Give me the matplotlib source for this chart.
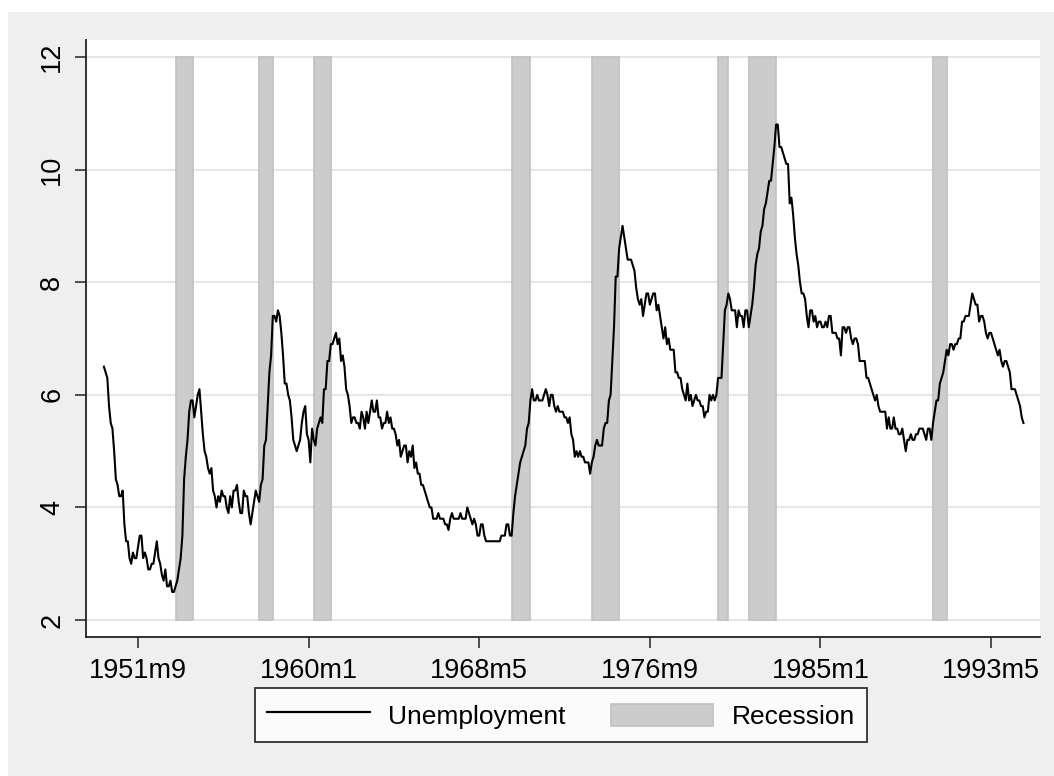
import numpy as np
import matplotlib.pyplot as plt
from matplotlib.patches import Rectangle, Patch
from matplotlib.lines import Line2D
from matplotlib.legend_handler import HandlerPatch
from matplotlib.ticker import FuncFormatter

plt.rcParams["font.family"] = ["Liberation Sans", "DejaVu Sans"]

# monthly unemployment rate, 1950m1 - 1994m12
unemp_by_year = {
    1950: [6.5, 6.4, 6.3, 5.8, 5.5, 5.4, 5.0, 4.5, 4.4, 4.2, 4.2, 4.3],
    1951: [3.7, 3.4, 3.4, 3.1, 3.0, 3.2, 3.1, 3.1, 3.3, 3.5, 3.5, 3.1],
    1952: [3.2, 3.1, 2.9, 2.9, 3.0, 3.0, 3.2, 3.4, 3.1, 3.0, 2.8, 2.7],
    1953: [2.9, 2.6, 2.6, 2.7, 2.5, 2.5, 2.6, 2.7, 2.9, 3.1, 3.5, 4.5],
    1954: [4.9, 5.2, 5.7, 5.9, 5.9, 5.6, 5.8, 6.0, 6.1, 5.7, 5.3, 5.0],
    1955: [4.9, 4.7, 4.6, 4.7, 4.3, 4.2, 4.0, 4.2, 4.1, 4.3, 4.2, 4.2],
    1956: [4.0, 3.9, 4.2, 4.0, 4.3, 4.3, 4.4, 4.1, 3.9, 3.9, 4.3, 4.2],
    1957: [4.2, 3.9, 3.7, 3.9, 4.1, 4.3, 4.2, 4.1, 4.4, 4.5, 5.1, 5.2],
    1958: [5.8, 6.4, 6.7, 7.4, 7.4, 7.3, 7.5, 7.4, 7.1, 6.7, 6.2, 6.2],
    1959: [6.0, 5.9, 5.6, 5.2, 5.1, 5.0, 5.1, 5.2, 5.5, 5.7, 5.8, 5.3],
    1960: [5.2, 4.8, 5.4, 5.2, 5.1, 5.4, 5.5, 5.6, 5.5, 6.1, 6.1, 6.6],
    1961: [6.6, 6.9, 6.9, 7.0, 7.1, 6.9, 7.0, 6.6, 6.7, 6.5, 6.1, 6.0],
    1962: [5.8, 5.5, 5.6, 5.6, 5.5, 5.5, 5.4, 5.7, 5.6, 5.4, 5.7, 5.5],
    1963: [5.7, 5.9, 5.7, 5.7, 5.9, 5.6, 5.6, 5.4, 5.5, 5.5, 5.7, 5.5],
    1964: [5.6, 5.4, 5.4, 5.3, 5.1, 5.2, 4.9, 5.0, 5.1, 5.1, 4.8, 5.0],
    1965: [4.9, 5.1, 4.7, 4.8, 4.6, 4.6, 4.4, 4.4, 4.3, 4.2, 4.1, 4.0],
    1966: [4.0, 3.8, 3.8, 3.8, 3.9, 3.8, 3.8, 3.8, 3.7, 3.7, 3.6, 3.8],
    1967: [3.9, 3.8, 3.8, 3.8, 3.8, 3.9, 3.8, 3.8, 3.8, 4.0, 3.9, 3.8],
    1968: [3.7, 3.8, 3.7, 3.5, 3.5, 3.7, 3.7, 3.5, 3.4, 3.4, 3.4, 3.4],
    1969: [3.4, 3.4, 3.4, 3.4, 3.4, 3.5, 3.5, 3.5, 3.7, 3.7, 3.5, 3.5],
    1970: [3.9, 4.2, 4.4, 4.6, 4.8, 4.9, 5.0, 5.1, 5.4, 5.5, 5.9, 6.1],
    1971: [5.9, 5.9, 6.0, 5.9, 5.9, 5.9, 6.0, 6.1, 6.0, 5.8, 6.0, 6.0],
    1972: [5.8, 5.7, 5.8, 5.7, 5.7, 5.7, 5.6, 5.6, 5.5, 5.6, 5.3, 5.2],
    1973: [4.9, 5.0, 4.9, 5.0, 4.9, 4.9, 4.8, 4.8, 4.8, 4.6, 4.8, 4.9],
    1974: [5.1, 5.2, 5.1, 5.1, 5.1, 5.4, 5.5, 5.5, 5.9, 6.0, 6.6, 7.2],
    1975: [8.1, 8.1, 8.6, 8.8, 9.0, 8.8, 8.6, 8.4, 8.4, 8.4, 8.3, 8.2],
    1976: [7.9, 7.7, 7.6, 7.7, 7.4, 7.6, 7.8, 7.8, 7.6, 7.7, 7.8, 7.8],
    1977: [7.5, 7.6, 7.4, 7.2, 7.0, 7.2, 6.9, 7.0, 6.8, 6.8, 6.8, 6.4],
    1978: [6.4, 6.3, 6.3, 6.1, 6.0, 5.9, 6.2, 5.9, 6.0, 5.8, 5.9, 6.0],
    1979: [5.9, 5.9, 5.8, 5.8, 5.6, 5.7, 5.7, 6.0, 5.9, 6.0, 5.9, 6.0],
    1980: [6.3, 6.3, 6.3, 6.9, 7.5, 7.6, 7.8, 7.7, 7.5, 7.5, 7.5, 7.2],
    1981: [7.5, 7.4, 7.4, 7.2, 7.5, 7.5, 7.2, 7.4, 7.6, 7.9, 8.3, 8.5],
    1982: [8.6, 8.9, 9.0, 9.3, 9.4, 9.6, 9.8, 9.8, 10.1, 10.4, 10.8, 10.8],
    1983: [10.4, 10.4, 10.3, 10.2, 10.1, 10.1, 9.4, 9.5, 9.2, 8.8, 8.5, 8.3],
    1984: [8.0, 7.8, 7.8, 7.7, 7.4, 7.2, 7.5, 7.5, 7.3, 7.4, 7.2, 7.3],
    1985: [7.3, 7.2, 7.2, 7.3, 7.2, 7.4, 7.4, 7.1, 7.1, 7.1, 7.0, 7.0],
    1986: [6.7, 7.2, 7.2, 7.1, 7.2, 7.2, 7.0, 6.9, 7.0, 7.0, 6.9, 6.6],
    1987: [6.6, 6.6, 6.6, 6.3, 6.3, 6.2, 6.1, 6.0, 5.9, 6.0, 5.8, 5.7],
    1988: [5.7, 5.7, 5.7, 5.4, 5.6, 5.4, 5.4, 5.6, 5.4, 5.4, 5.3, 5.3],
    1989: [5.4, 5.2, 5.0, 5.2, 5.2, 5.3, 5.2, 5.2, 5.3, 5.3, 5.4, 5.4],
    1990: [5.4, 5.3, 5.2, 5.4, 5.4, 5.2, 5.5, 5.7, 5.9, 5.9, 6.2, 6.3],
    1991: [6.4, 6.6, 6.8, 6.7, 6.9, 6.9, 6.8, 6.9, 6.9, 7.0, 7.0, 7.3],
    1992: [7.3, 7.4, 7.4, 7.4, 7.6, 7.8, 7.7, 7.6, 7.6, 7.3, 7.4, 7.4],
    1993: [7.3, 7.1, 7.0, 7.1, 7.1, 7.0, 6.9, 6.8, 6.7, 6.8, 6.6, 6.5],
    1994: [6.6, 6.6, 6.5, 6.4, 6.1, 6.1, 6.1, 6.0, 5.9, 5.8, 5.6, 5.5],
}

# NBER recessions (peak, trough) as (year, month)
rec_start = [(1953, 7), (1957, 8), (1960, 4), (1969, 12), (1973, 11), (1980, 1), (1981, 7), (1990, 7)]
rec_end = [(1954, 5), (1958, 4), (1961, 2), (1970, 11), (1975, 3), (1980, 7), (1982, 11), (1991, 3)]

xticks = [-100, 0, 100, 200, 300, 400]   # Stata monthly index, 1960m1 = 0
yticks = [2, 4, 6, 8, 10, 12]


def mindex(y, m):
    return (y - 1960) * 12 + (m - 1)


def mlabel(v, pos=None):
    v = int(round(v))
    return f"{1960 + v // 12}m{v % 12 + 1}"


def short_patch(legend, orig_handle, xdescent, ydescent, width, height, fontsize):
    return Rectangle((-xdescent, -ydescent + height * 0.14), width, height * 0.72)


months = []
unemp = []
for yr in sorted(unemp_by_year):
    for m, val in enumerate(unemp_by_year[yr], start=1):
        months.append(mindex(yr, m))
        unemp.append(val)
months = np.array(months)
unemp = np.array(unemp)

starts = np.array([mindex(*d) for d in rec_start])
ends = np.array([mindex(*d) for d in rec_end])

fig = plt.figure(figsize=(10.54, 7.76), dpi=100, facecolor="white")
fig.patches.append(Rectangle((8 / 1054, 0), 1, 1 - 12 / 776, transform=fig.transFigure,
                             facecolor="#efefef", edgecolor="none", zorder=-10))

ax = fig.add_axes([86 / 1054, 1 - 637 / 776, (1040 - 86) / 1054, (637 - 40) / 776])
ax.set_facecolor("white")

for y in yticks:
    ax.axhline(y, color="#e6e6e6", lw=1.5, zorder=0)

ax.bar(starts, height=10, width=ends - starts, bottom=2, align="edge",
       color="#cccccc", edgecolor="#c0c0c0", linewidth=1.2, zorder=1)
ax.plot(months, unemp, color="black", lw=1.5, zorder=3)

ax.set_xlim(-130.5, 428.7)
ax.set_ylim(1.70, 12.30)
ax.set_xticks(xticks)
ax.xaxis.set_major_formatter(FuncFormatter(mlabel))
ax.set_yticks(yticks)

for s in ["top", "right"]:
    ax.spines[s].set_visible(False)
for s in ["left", "bottom"]:
    ax.spines[s].set_linewidth(1.3)
    ax.spines[s].set_color("#222222")

ax.tick_params(axis="both", direction="out", length=8, width=1.1, color="#222222",
               labelsize=19.5, pad=7)
for lab in ax.get_yticklabels():
    lab.set_rotation(90)
    lab.set_va("center")

rec_handle = Patch(facecolor="#cccccc", edgecolor="#c0c0c0", linewidth=1.2)
handles = [Line2D([0], [0], color="black", lw=1.6), rec_handle]
leg = fig.legend(handles, ["Unemployment", "Recession"], ncol=2,
                 loc="center", bbox_to_anchor=(561 / 1054, 1 - 715 / 776),
                 fontsize=19, frameon=True, fancybox=False, edgecolor="black",
                 handlelength=3.9, handleheight=1.35, handletextpad=0.7,
                 columnspacing=1.7, borderpad=0.45,
                 handler_map={Patch: HandlerPatch(patch_func=short_patch)})
leg.get_frame().set_linewidth(1.3)
leg.get_frame().set_facecolor("white")

fig.savefig("out.png", dpi=100, facecolor=fig.get_facecolor())
